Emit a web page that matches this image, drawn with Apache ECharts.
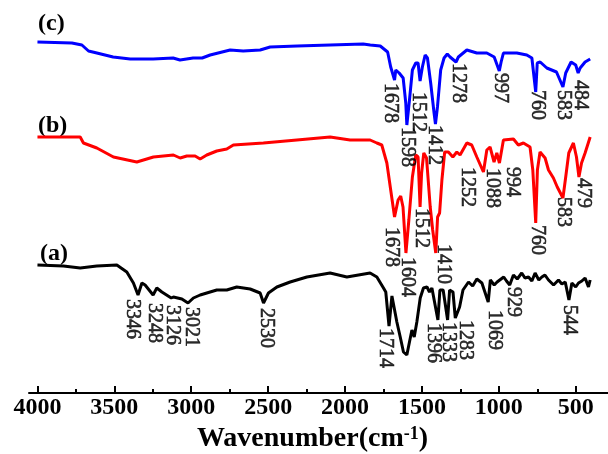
<!DOCTYPE html>
<html>
<head>
<meta charset="utf-8">
<script src="https://cdn.jsdelivr.net/npm/echarts@6/dist/echarts.min.js"></script>
<style>
  html, body { margin: 0; padding: 0; background: #fff; }
  #chart { width: 608px; height: 454px; }
</style>
</head>
<body>
<div id="chart"></div>
<script>
// wavenumber (cm-1), intensity (a.u., stacked offsets)
var curveC = [
  [4000, 351], [3776, 350], [3711, 348], [3668, 342], [3614, 340], [3508, 336], [3397, 334],
  [3248, 334], [3118, 335], [3073, 333], [2988, 335], [2929, 335], [2877, 338], [2747, 343],
  [2662, 342], [2552, 343], [2487, 346], [2311, 347], [2097, 348], [1882, 349], [1836, 348],
  [1771, 347], [1723, 341], [1703, 326], [1678, 313], [1670, 323], [1648, 320], [1622, 315],
  [1605, 290], [1598, 268], [1579, 296], [1562, 323], [1540, 330], [1525, 330], [1512, 312],
  [1497, 326], [1479, 338], [1464, 335], [1443, 310], [1421, 280], [1412, 269], [1399, 286],
  [1378, 323], [1356, 335], [1335, 339], [1317, 336], [1278, 331], [1263, 336], [1208, 343],
  [1143, 340], [1078, 340], [1030, 336], [997, 322], [985, 331], [970, 340], [883, 340],
  [818, 338], [785, 335], [760, 301], [750, 330], [731, 331], [688, 325], [625, 321],
  [583, 306], [565, 320], [530, 331], [500, 328], [484, 320], [471, 325], [439, 331], [406, 334]
];
var curveB = [
  [4000, 256], [3722, 256], [3701, 250], [3614, 245], [3506, 236], [3354, 231], [3246, 236],
  [3116, 238], [3072, 235], [3029, 237], [2975, 237], [2942, 234], [2899, 238], [2834, 242],
  [2769, 244], [2726, 248], [2531, 250], [2313, 253], [2097, 256], [1967, 253], [1837, 253],
  [1793, 250], [1761, 248], [1728, 230], [1678, 176], [1655, 193], [1638, 197], [1623, 186],
  [1604, 140], [1585, 173], [1562, 216], [1540, 238], [1525, 236], [1512, 186], [1502, 220],
  [1488, 240], [1470, 235], [1446, 186], [1430, 163], [1410, 140], [1398, 176], [1385, 180],
  [1370, 213], [1352, 241], [1328, 241], [1299, 236], [1273, 241], [1252, 238], [1208, 250],
  [1176, 248], [1143, 236], [1100, 221], [1078, 243], [1057, 246], [1031, 231], [1013, 240],
  [996, 230], [970, 253], [905, 254], [873, 248], [840, 250], [797, 246], [779, 223],
  [760, 170], [749, 223], [732, 241], [699, 235], [677, 223], [645, 215], [620, 206],
  [583, 195], [565, 216], [545, 240], [515, 250], [495, 236], [479, 216], [462, 230],
  [439, 240], [406, 256]
];
var curveA = [
  [4000, 128], [3831, 127], [3722, 125], [3614, 127], [3484, 128], [3419, 121], [3376, 110],
  [3346, 98], [3321, 110], [3300, 108], [3248, 98], [3224, 105], [3191, 101], [3130, 95],
  [3116, 96], [3061, 94], [3021, 90], [2986, 95], [2942, 98], [2899, 100], [2834, 103],
  [2769, 103], [2704, 106], [2617, 104], [2552, 100], [2530, 90], [2498, 100], [2443, 106],
  [2357, 111], [2248, 116], [2097, 120], [1988, 116], [1837, 120], [1793, 116], [1750, 105],
  [1735, 101], [1714, 67], [1695, 97], [1685, 95], [1663, 71], [1641, 56], [1620, 41],
  [1598, 38], [1581, 51], [1565, 63], [1550, 56], [1533, 71], [1511, 95], [1490, 105],
  [1467, 106], [1451, 101], [1435, 105], [1396, 73], [1383, 103], [1362, 103], [1333, 73],
  [1320, 103], [1298, 101], [1283, 75], [1255, 86], [1233, 103], [1197, 111], [1170, 107],
  [1143, 114], [1110, 110], [1069, 91], [1055, 113], [1030, 108], [1011, 111], [968, 116],
  [950, 112], [929, 108], [905, 118], [880, 114], [851, 120], [830, 115], [807, 116],
  [785, 112], [764, 120], [740, 113], [720, 116], [700, 118], [677, 113], [644, 108],
  [612, 113], [590, 109], [568, 111], [544, 93], [525, 110], [500, 106], [482, 110],
  [460, 112], [439, 115], [417, 106], [406, 113]
];

// peak labels: text, label x (cm-1), label top (a.u.)
var peaksC = [
  ["1678", 1707, 310], ["1598", 1596, 266], ["1512", 1521, 301], ["1412", 1417, 268],
  ["1278", 1265, 330], ["997", 991, 320], ["760", 751, 303], ["583", 582, 303], ["484", 471, 313]
];
var peaksB = [
  ["1678", 1700, 166], ["1604", 1596, 136], ["1512", 1505, 185], ["1410", 1362, 149],
  ["1252", 1206, 226], ["1088", 1044, 225], ["994", 913, 226], ["760", 751, 168],
  ["583", 582, 196], ["479", 452, 215]
];
var peaksA = [
  ["3346", 3381, 94], ["3248", 3241, 90], ["3126", 3124, 88], ["3021", 3001, 86],
  ["2530", 2513, 85], ["1714", 1739, 65], ["1396", 1427, 70], ["1333", 1330, 71],
  ["1283", 1219, 73], ["1069", 1031, 83], ["929", 907, 106], ["544", 543, 88]
];

var majorTicks = [4000, 3500, 3000, 2500, 2000, 1500, 1000, 500];
var minorTicks = [3750, 3250, 2750, 2250, 1750, 1250, 750];

var font = "'Liberation Serif', 'Times New Roman', serif";
var myChart = echarts.init(document.getElementById("chart"));

function lineSeries(name, data, color) {
  return {
    name: name,
    type: "line",
    data: data,
    showSymbol: false,
    symbol: "none",
    lineStyle: { color: color, width: 3 },
    z: 2,
  };
}
function labelSeries(name, list) {
  return {
    name: name,
    type: "scatter",
    symbolSize: 0,
    data: list.map(function (p) { return { value: [p[1], p[2]], name: p[0] }; }),
    label: {
      show: true,
      position: "inside",
      formatter: "{b}",
      rotate: -90,
      align: "left",
      verticalAlign: "middle",
      fontFamily: font,
      fontSize: 20,
      color: "#000",
      textBorderColor: "#000",
      textBorderWidth: 0.6,
    },
    z: 3,
  };
}

var option = {
  animation: false,
  grid: { left: 29, right: 0, top: 0, bottom: 61, containLabel: false, outerBoundsMode: "none" },
  xAxis: [
    {
      type: "value",
      inverse: true,
      min: 290,
      max: 4055,
      axisLine: { show: true, lineStyle: { color: "#000", width: 2 } },
      axisTick: { show: true, inside: true, length: 7, customValues: majorTicks, lineStyle: { color: "#000", width: 2 } },
      axisLabel: {
        customValues: majorTicks,
        formatter: function (v) { return String(v); },
        margin: 3,
        color: "#000",
        fontFamily: font,
        fontWeight: "bold",
        fontSize: 24,
      },
      splitLine: { show: false },
      name: "{t|Wavenumber(cm}{s|-1}{t|)}",
      nameLocation: "middle",
      nameGap: 30,
      nameTextStyle: {
        padding: [0, 12, 0, 0],
        rich: {
          t: { fontFamily: font, fontWeight: "bold", fontSize: 28, color: "#000" },
          s: { fontFamily: font, fontWeight: "bold", fontSize: 18, color: "#000", verticalAlign: "top" },
        },
      },
    },
    {
      type: "value",
      inverse: true,
      min: 290,
      max: 4055,
      position: "bottom",
      axisLine: { show: false },
      axisTick: { show: true, inside: true, length: 4, customValues: minorTicks, lineStyle: { color: "#000", width: 2 } },
      axisLabel: { show: false },
      splitLine: { show: false },
    },
  ],
  yAxis: { type: "value", min: 0, max: 393, show: false },
  graphic: [
    { type: "text", left: 38, top: 12, style: { text: "(c)", font: "bold 24px " + font, fill: "#000" } },
    { type: "text", left: 38, top: 114, style: { text: "(b)", font: "bold 24px " + font, fill: "#000" } },
    { type: "text", left: 40, top: 242, style: { text: "(a)", font: "bold 24px " + font, fill: "#000" } },
  ],
  series: [
    lineSeries("c", curveC, "#0000ff"),
    lineSeries("b", curveB, "#ff0000"),
    lineSeries("a", curveA, "#000000"),
    labelSeries("c peaks", peaksC),
    labelSeries("b peaks", peaksB),
    labelSeries("a peaks", peaksA),
  ],
};
myChart.setOption(option);
</script>
</body>
</html>
